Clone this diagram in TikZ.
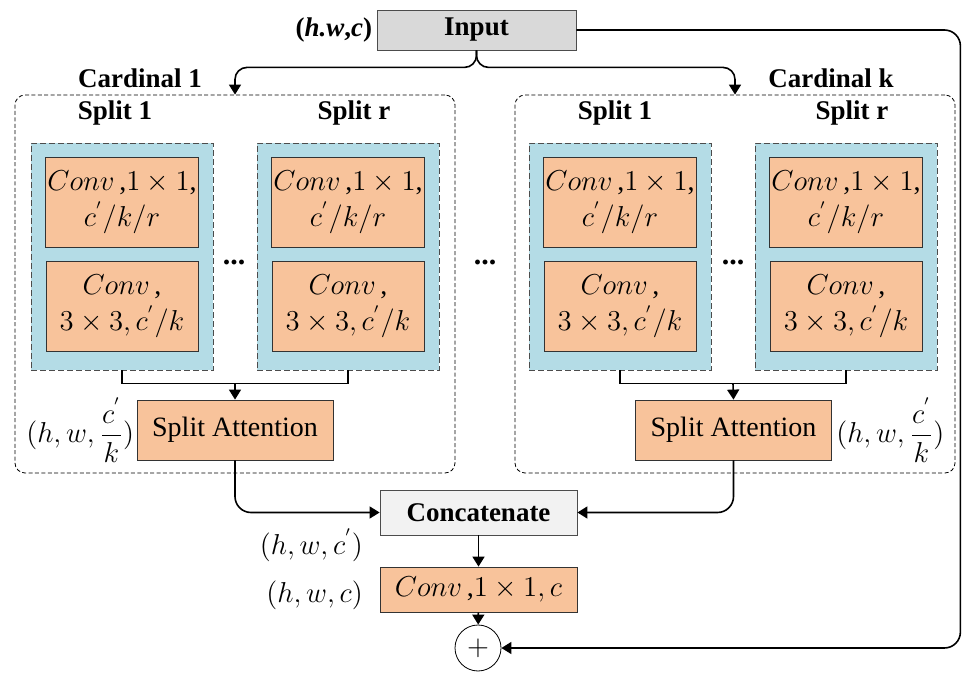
\documentclass[tikz,border=0pt]{standalone}
\usepackage{amsmath}
\usepackage{fontspec}
\setmainfont{Liberation Serif}
\usetikzlibrary{arrows.meta,calc,positioning}
\definecolor{peach}{HTML}{F8C39B}
\definecolor{paleblue}{HTML}{B4DCE6}
\definecolor{inputgray}{HTML}{D9D9D9}
\definecolor{catgray}{HTML}{F2F2F2}
\tikzset{
  conv/.style={draw=black!80,fill=peach,minimum width=76pt,minimum height=45pt,align=center,inner sep=1pt,font=\fontsize{14}{18}\selectfont},
  splitbox/.style={draw=black!70,dash pattern=on 3pt off 1.5pt,fill=paleblue,minimum width=91pt,minimum height=113.5pt},
  cardbox/.style={draw,dash pattern=on 2pt off 1.2pt,rounded corners=5pt,minimum width=220pt,minimum height=189pt},
  flow/.style={-{Triangle[length=5pt,width=6pt]},thick},
  lbl/.style={font=\fontsize{13.5}{16}\bfseries}
}
\begin{document}
\begin{tikzpicture}[x=.5pt,y=-.5pt,font=\fontsize{14}{16}\selectfont]
\useasboundingbox (0,0) rectangle (964,673);
% input
\node[draw=black!70,fill=inputgray,minimum width=99.5pt,minimum height=20pt,lbl] (input) at (476.5,30) {Input};
\node[lbl,anchor=east,inner sep=2pt] (inshape) at (input.west) {(\textit{h.w},\textit{c})};
% cardinal groups
\node[cardbox] (card1) at (235,284) {};
\node[cardbox] (cardk) at (735,284) {};
\node[lbl] (cname1) at (140,78) {Cardinal 1};
\node[lbl] (cnamek) at (831,78) {Cardinal k};
\foreach \cx/\nm/\sp/\sx in {122/a/1/-7,348/b/r/6,620/c/1/-5,846/d/r/6}{
  \node[splitbox] (split\nm) at (\cx,256.5) {};
  \node[conv] (top\nm) at (\cx,202.5) {$Conv$\,,$1\times1$,\\$c^{'}/k/r$};
  \node[conv] (bot\nm) at (\cx,306.5) {$Conv$\,,\\$3\times3,c^{'}/k$};
  \node[lbl] (sname\nm) at (\cx+\sx,113) {Split \sp};
}
\node[lbl,font=\fontsize{15}{16}\bfseries] (dots1) at (234,262) {...};
\node[lbl,font=\fontsize{15}{16}\bfseries] (dots2) at (485,262) {...};
\node[lbl,font=\fontsize{15}{16}\bfseries] (dots3) at (733,262) {...};
% split attention
\node[conv,minimum width=98pt,minimum height=30pt] (att1) at (235,430) {Split Attention};
\node[conv,minimum width=98pt,minimum height=30pt] (att2) at (733.5,430) {Split Attention};
\node[anchor=east,inner sep=1pt] (shape1) at (att1.west) {$(h,w,\dfrac{c^{'}}{k})$};
\node[anchor=west,inner sep=2pt] (shapek) at (att2.east) {$(h,w,\dfrac{c^{'}}{k})$};
% merge
\node[draw=black!70,fill=catgray,lbl,minimum width=98.5pt,minimum height=22.5pt] (concat) at (478.5,512.5) {Concatenate};
\node[conv,minimum width=98.5pt,minimum height=22.5pt] (final) at (478.5,589.5) {$Conv$\,,$1\times1,c$};
\node[draw,circle,minimum size=23pt,inner sep=0pt] (plus) at (478,648) {$+$};
\node[anchor=east] (shapec) at (370,545) {$(h,w,c^{'})$};
\node[anchor=east] (shapeo) at (370,595) {$(h,w,c)$};
% connectors
\draw[flow,rounded corners=6pt] (input.south) -- ++(0,17) -| (card1.north);
\draw[flow,rounded corners=6pt] (input.south) -- ++(0,17) -| (cardk.north);
\draw[flow,rounded corners=8pt] (input.east) -- ++(384,0) |- (plus.east);
\draw[thick] (splita.south) -- ++(0,13) -| (splitb.south);
\draw[thick] (splitc.south) -- ++(0,13) -| (splitd.south);
\coordinate (join1) at ($(splita.south)!.5!(splitb.south)+(0,13)$);
\coordinate (join2) at ($(splitc.south)!.5!(splitd.south)+(0,13)$);
\draw[flow] (join1) -- (att1.north);
\draw[flow] (join2) -- (att2.north);
\draw[flow,rounded corners=8pt] (att1.south) |- (concat.west);
\draw[flow,rounded corners=8pt] (att2.south) |- (concat.east);
\draw[flow] (concat) -- (final);
\draw[flow] (final) -- (plus);
\end{tikzpicture}
\end{document}
